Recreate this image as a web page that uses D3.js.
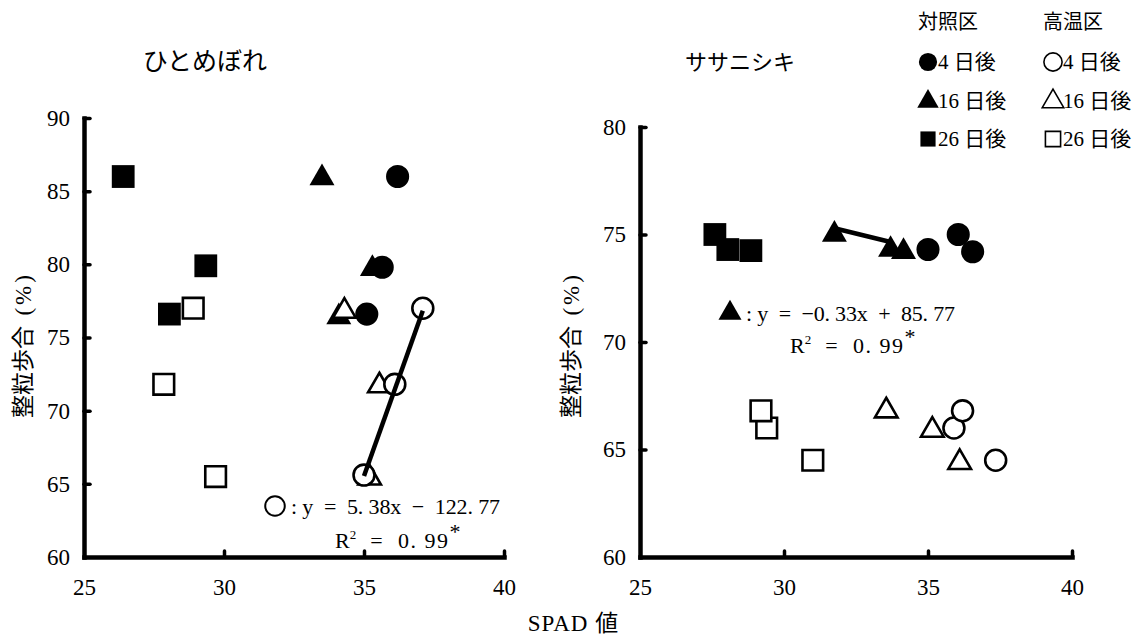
<!DOCTYPE html>
<html>
<head>
<meta charset="utf-8">
<script src="https://cdn.jsdelivr.net/npm/d3@7"></script>
<style>
  html, body { margin: 0; padding: 0; background: #fff; }
  svg { display: block; }
</style>
</head>
<body>
<svg id="chart" width="1143" height="638"></svg>
<script>
// ---- data ----
const xTicks = [25, 30, 35, 40];
const hitomeboreYTicks = [60, 65, 70, 75, 80, 85, 90];
const sasanishikiYTicks = [60, 65, 70, 75, 80];

// [SPAD, 整粒歩合(%)]
const hitomeboreCtrl4  = [[36.2, 86.0], [35.65, 79.8], [35.1, 76.6]];
const hitomeboreCtrl16 = [[33.5, 85.9], [35.3, 79.7], [34.1, 76.4]];
const hitomeboreCtrl26 = [[26.4, 86.0], [29.35, 79.9], [28.05, 76.6]];
const hitomeboreHeat4  = [[35.0, 65.6], [36.1, 71.8], [37.1, 77.0]];
const hitomeboreHeat16 = [[34.3, 76.8], [35.55, 71.7], [35.2, 65.4]];
const hitomeboreHeat26 = [[28.9, 77.0], [27.85, 71.8], [29.7, 65.5]];

const sasanishikiCtrl4  = [[35.0, 74.3], [36.05, 75.0], [36.55, 74.2]];
const sasanishikiCtrl16 = [[31.75, 75.0], [33.7, 74.3], [34.15, 74.2]];
const sasanishikiCtrl26 = [[27.6, 75.0], [28.05, 74.3], [28.85, 74.25]];
const sasanishikiHeat4  = [[35.9, 66.0], [36.2, 66.8], [37.35, 64.5]];
const sasanishikiHeat16 = [[33.55, 66.8], [35.15, 65.9], [36.1, 64.4]];
const sasanishikiHeat26 = [[29.4, 66.0], [29.2, 66.8], [31.0, 64.5]];

// regression fits: slope, intercept, x-extent
const hitomeboreFit = { slope: 5.38, intercept: -122.77, from: 35.0, to: 37.1 };
const sasanishikiFit = { slope: -0.33, intercept: 85.77, from: 31.75, to: 33.7 };

const legendRows = ["4 日後", "16 日後", "26 日後"];
const legendGroups = ["対照区", "高温区"];

// ---- drawing ----
const svg = d3.select("#chart");
const serif = "'Liberation Serif', 'Noto Sans CJK JP', serif";
const cjk = "'Noto Sans CJK JP', sans-serif";

const symbolType = { circle: d3.symbolCircle, triangle: d3.symbolTriangle, square: d3.symbolSquare };
const symbolSize = { circle: 420, triangle: 270, square: 520 };

function symbolPath(shape, scale = 1) {
  return d3.symbol().type(symbolType[shape]).size(symbolSize[shape] * scale)();
}

function drawPanel(cfg) {
  const x = d3.scaleLinear().domain([25, 40]).range(cfg.xRange);
  const y = d3.scaleLinear().domain(cfg.yDomain).range(cfg.yRange);
  const g = svg.append("g");

  // axes
  const xAxis = d3.axisBottom(x).tickValues(xTicks).tickSize(-6).tickSizeOuter(0).tickPadding(22);
  const yAxis = d3.axisLeft(y).tickValues(cfg.yTicks).tickSize(-6).tickSizeOuter(0).tickPadding(14);

  const gx = g.append("g").attr("transform", `translate(0,${cfg.yRange[0]})`).call(xAxis);
  const gy = g.append("g").attr("transform", `translate(${cfg.xRange[0]},0)`).call(yAxis);

  [gx, gy].forEach(a => {
    a.select(".domain").attr("stroke", "#000").attr("stroke-width", 4.5).attr("stroke-linecap", "square");
    a.selectAll(".tick line").attr("stroke", "#000").attr("stroke-width", 3.5).attr("stroke-linecap", "round");
    a.selectAll(".tick text").attr("fill", "#000").attr("font-family", serif).attr("font-size", 23);
  });
  // first tick sits on the other axis line; drop its stub
  gx.selectAll(".tick").filter(d => d === 25).select("line").remove();
  gy.selectAll(".tick").filter(d => d === cfg.yDomain[0]).select("line").remove();

  // title
  g.append("text").attr("x", cfg.titleX).attr("y", 70).attr("text-anchor", "middle")
    .attr("font-family", cjk).attr("font-size", cfg.titleSize).text(cfg.title);

  // y label
  const yl = g.append("text")
    .attr("transform", `translate(${cfg.yLabelX},${cfg.yLabelY}) rotate(-90)`)
    .attr("text-anchor", "middle").attr("font-family", cjk).attr("font-size", 23)
    .style("white-space", "pre");
  yl.append("tspan").text("整粒歩合  ");
  yl.append("tspan").attr("font-family", serif).attr("letter-spacing", 3).text("(%)");

  const series = [
    { d: cfg.ctrl26, shape: "square", filled: true },
    { d: cfg.ctrl16, shape: "triangle", filled: true },
    { d: cfg.ctrl4, shape: "circle", filled: true },
    { d: cfg.heat26, shape: "square", filled: false },
    { d: cfg.heat16, shape: "triangle", filled: false },
    { d: cfg.heat4, shape: "circle", filled: false }
  ];
  series.forEach(s => {
    g.append("g").selectAll("path").data(s.d).join("path")
      .attr("d", symbolPath(s.shape, s.filled ? 1 : 0.82))
      .attr("transform", d => `translate(${x(d[0])},${y(d[1])})`)
      .attr("fill", s.filled ? "#000" : "#fff")
      .attr("stroke", "#000")
      .attr("stroke-width", s.filled ? 0 : 2.6);
  });

  // regression line
  const f = cfg.fit;
  const fitPts = [f.from, f.to].map(v => [v, f.slope * v + f.intercept]);
  g.append("path")
    .attr("d", d3.line().x(d => x(d[0])).y(d => y(d[1]))(fitPts))
    .attr("stroke", "#000").attr("stroke-width", 4.5).attr("fill", "none");

  // equation
  const eq = cfg.eq;
  g.append("path")
    .attr("d", d3.symbol().type(symbolType[eq.shape]).size(eq.shape === "circle" ? 300 : 230)())
    .attr("transform", `translate(${eq.symX},${eq.symY})`)
    .attr("fill", eq.filled ? "#000" : "#fff").attr("stroke", "#000")
    .attr("stroke-width", eq.filled ? 0 : 2);
  g.append("text").attr("x", eq.textX).attr("y", eq.line1Y)
    .attr("font-family", serif).attr("font-size", 22)
    .attr("textLength", eq.textW).attr("lengthAdjust", "spacing")
    .style("white-space", "pre").text(eq.text);
  const r2 = g.append("text").attr("x", eq.r2X).attr("y", eq.line2Y)
    .attr("font-family", serif).attr("font-size", 22).style("white-space", "pre");
  r2.append("tspan").text("R");
  r2.append("tspan").attr("dy", -9).attr("font-size", 13).text("2");
  r2.append("tspan").attr("dy", 9).attr("letter-spacing", 1.5).text("  =  0. 99");
  r2.append("tspan").attr("dy", -9).attr("font-size", 22).text("*");
}

drawPanel({
  title: "ひとめぼれ", titleX: 205, titleSize: 25,
  xRange: [84, 504], yDomain: [60, 90], yRange: [557, 118], yTicks: hitomeboreYTicks,
  yLabelX: 31, yLabelY: 345,
  ctrl4: hitomeboreCtrl4, ctrl16: hitomeboreCtrl16, ctrl26: hitomeboreCtrl26,
  heat4: hitomeboreHeat4, heat16: hitomeboreHeat16, heat26: hitomeboreHeat26,
  fit: hitomeboreFit,
  eq: { shape: "circle", filled: false, symX: 275, symY: 506,
        text: ": y  =  5. 38x  −  122. 77", textX: 291, textW: 209, line1Y: 514,
        r2X: 335, line2Y: 548 }
});

drawPanel({
  title: "ササニシキ", titleX: 740, titleSize: 22,
  xRange: [640, 1072], yDomain: [60, 80], yRange: [557, 127], yTicks: sasanishikiYTicks,
  yLabelX: 579, yLabelY: 345,
  ctrl4: sasanishikiCtrl4, ctrl16: sasanishikiCtrl16, ctrl26: sasanishikiCtrl26,
  heat4: sasanishikiHeat4, heat16: sasanishikiHeat16, heat26: sasanishikiHeat26,
  fit: sasanishikiFit,
  eq: { shape: "triangle", filled: true, symX: 730, symY: 313,
        text: ": y  =  −0. 33x  +  85. 77", textX: 746, textW: 209, line1Y: 321,
        r2X: 790, line2Y: 353 }
});

// x-axis title
const xt = svg.append("text").attr("x", 573).attr("y", 631).attr("text-anchor", "middle")
  .attr("font-family", serif).attr("font-size", 23).style("white-space", "pre");
xt.append("tspan").attr("letter-spacing", 1).text("SPAD ");
xt.append("tspan").attr("font-family", cjk).text("値");

// legend
const legend = svg.append("g");
const legendShapes = ["circle", "triangle", "square"];
legendGroups.forEach((grp, gi) => {
  const lx = 918 + gi * 125;
  legend.append("text").attr("x", lx).attr("y", 29)
    .attr("font-family", cjk).attr("font-size", 20).text(grp);
  legendRows.forEach((row, ri) => {
    const ly = 62 + ri * 38.5;
    const shape = legendShapes[ri];
    legend.append("path")
      .attr("d", d3.symbol().type(symbolType[shape]).size(shape === "triangle" ? 200 : shape === "circle" ? 260 : 230)())
      .attr("transform", `translate(${lx + 10},${ly + (shape === "triangle" ? 1 : 0)})`)
      .attr("fill", gi === 0 ? "#000" : "#fff").attr("stroke", "#000")
      .attr("stroke-width", gi === 0 ? 0 : 1.6);
    legend.append("text").attr("x", lx + 20).attr("y", ly + 7)
      .attr("font-family", serif).attr("font-size", 21).style("white-space", "pre").text(row);
  });
});
</script>
</body>
</html>
